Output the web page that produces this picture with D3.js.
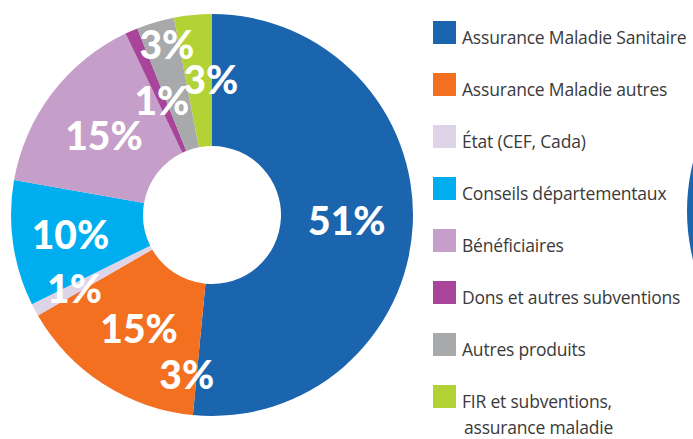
<!DOCTYPE html>
<html>
<head>
<meta charset="utf-8">
<script src="https://cdn.jsdelivr.net/npm/d3@7"></script>
<style>
  html, body { margin: 0; padding: 0; background: #fff; }
  svg { display: block; }
</style>
</head>
<body>
<div id="chart"></div>
<script>
const width = 693;
const height = 439;

// data
const categories = [
    'Assurance Maladie Sanitaire',
    'Assurance Maladie autres',
    'État (CEF, Cada)',
    'Conseils départementaux',
    'Bénéficiaires',
    'Dons et autres subventions',
    'Autres produits',
    'FIR et subventions,|assurance maladie'
];
const values = [51, 15, 1, 10, 15, 1, 3, 3];
const colors = ['#1b64ae', '#f37021', '#ded4e8', '#00aeef', '#c59ec9', '#a8449a', '#a7a9ab', '#b2d235'];
// an extra label that sits inside the orange slice in the original
const extraLabels = [{ slice: 1, text: '3%' }];

// placement of the labels (radius + small angle nudge in degrees)
const labelRadius = [135, 135, 156, 143, 134, 125, 176, 135];
const labelNudge = [0, 0, 0, 0, -1, 0, 1.5, 5];

const cx = 212, cy = 215;
const outerR = 201, innerR = 69;

const svg = d3.select('#chart')
    .append('svg')
    .attr('width', width)
    .attr('height', height);

// the next chart peeking in at the right border
svg.append('path')
    .attr('transform', `translate(${888},${211})`)
    .attr('d', d3.arc()({ innerRadius: 0, outerRadius: 201, startAngle: 0, endAngle: 2 * Math.PI }))
    .attr('fill', '#1b64ae');

const pie = d3.pie().sort(null).value(d => d);
const arcs = pie(values);
const arc = d3.arc().innerRadius(innerR).outerRadius(outerR);

const g = svg.append('g')
    .attr('transform', `translate(${cx},${cy})`);

g.selectAll('.slice')
    .data(arcs)
    .enter()
    .append('path')
    .attr('class', 'slice')
    .attr('d', arc)
    .attr('fill', (d, i) => colors[i]);

function polar(angle, r) {
    return [Math.sin(angle) * r, -Math.cos(angle) * r];
}

const toRad = Math.PI / 180;
let labelData = arcs.map((d, i) => {
    let a = (d.startAngle + d.endAngle) / 2 + labelNudge[i] * toRad;
    return { text: values[i] + '%', pos: polar(a, labelRadius[i]) };
});
extraLabels.forEach(e => {
    let d = arcs[e.slice];
    labelData.push({ text: e.text, pos: polar(d.startAngle + 3.5 * toRad, 162) });
});

g.selectAll('.label')
    .data(labelData)
    .enter()
    .append('text')
    .attr('class', 'label')
    .attr('x', d => d.pos[0])
    .attr('y', d => d.pos[1])
    .attr('dy', '0.36em')
    .attr('text-anchor', 'middle')
    .style('font-family', 'Lato, sans-serif')
    .style('font-weight', 900)
    .style('font-size', '39px')
    .attr('fill', '#fff')
    .text(d => d.text);

// legend
const legend = svg.append('g')
    .attr('transform', 'translate(433,21)');

const item = legend.selectAll('.item')
    .data(categories)
    .enter()
    .append('g')
    .attr('class', 'item')
    .attr('transform', (d, i) => `translate(0,${i * 52})`);

item.append('rect')
    .attr('width', 23)
    .attr('height', 23)
    .attr('fill', (d, i) => colors[i]);

item.append('text')
    .attr('x', 29)
    .attr('y', 23)
    .style('font-family', '"Open Sans", sans-serif')
    .style('font-size', '17.5px')
    .style('letter-spacing', '-0.2px')
    .attr('fill', '#3a3a3a')
    .each(function (d) {
        let parts = d.split('|');
        let t = d3.select(this);
        t.append('tspan').attr('x', 29).text(parts[0]);
        if (parts.length > 1) {
            t.append('tspan').attr('x', 31).attr('dy', 26).text(parts[1]);
        }
    });
</script>
</body>
</html>
